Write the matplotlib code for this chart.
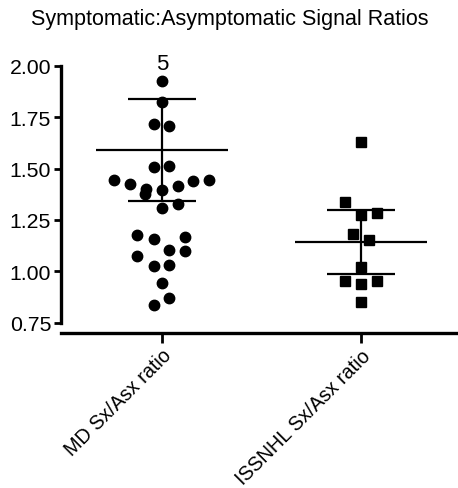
import matplotlib.pyplot as plt

plt.rcParams['font.family'] = ['Liberation Sans', 'DejaVu Sans']

# group labels
groups = ['MD Sx/Asx ratio', 'ISSNHL Sx/Asx ratio']

# values
md_vals = [1.924, 1.822, 1.717, 1.709, 1.506, 1.514, 1.445, 1.425, 1.401, 1.377,
           1.396, 1.417, 1.437, 1.445, 1.307, 1.328, 1.178, 1.155, 1.167, 1.106,
           1.101, 1.074, 1.024, 1.029, 0.943, 0.870, 0.834]
md_jit = [0, 0, -0.042, 0.037, -0.042, 0.037, -0.243, -0.162, -0.080, -0.087,
          0, 0.079, 0.156, 0.238, 0, 0.079, -0.126, -0.042, 0.117, 0.037,
          0.117, -0.126, -0.042, 0.037, 0, 0.037, -0.042]
md_mean = 1.59
md_sd = (1.34, 1.838)

ss_vals = [1.628, 1.337, 1.272, 1.285, 1.183, 1.153, 1.021, 0.951, 0.940, 0.954, 0.851]
ss_jit = [0, -0.080, 0, 0.079, -0.042, 0.040, 0, -0.080, 0, 0.079, 0]
ss_mean = 1.142
ss_sd = (0.988, 1.296)

fig = plt.figure(figsize=(4.58, 4.89), dpi=100)
ax = fig.add_axes([0.133, 0.317, 0.867, 0.5466])

ax.plot([0 + j for j in md_jit], md_vals, 'o', color='black', ms=7.5, mec='black')
ax.plot([1 + j for j in ss_jit], ss_vals, 's', color='black', ms=7, mec='black')

# mean and SD bars
for x, m, sd in [(0, md_mean, md_sd), (1, ss_mean, ss_sd)]:
    ax.hlines(m, x - 0.33, x + 0.33, color='black', lw=1.6)
    ax.hlines(sd, x - 0.17, x + 0.17, color='black', lw=1.6)
    ax.vlines(x, sd[0], sd[1], color='black', lw=1.6)

ax.text(0, 2.013, '5', ha='center', va='center', fontsize=16, clip_on=False)

ax.set_xlim(-0.508, 1.487)
ax.set_ylim(0.70, 2.00)
ax.set_yticks([0.75, 1.00, 1.25, 1.50, 1.75, 2.00])
ax.set_yticklabels(['%.2f' % v for v in [0.75, 1.00, 1.25, 1.50, 1.75, 2.00]])
ax.set_xticks([0, 1])
ax.set_xticklabels(groups, rotation=45, ha='right', rotation_mode='anchor')

ax.spines['top'].set_visible(False)
ax.spines['right'].set_visible(False)
ax.spines['left'].set_bounds(0.75, 2.00)
ax.spines['left'].set_linewidth(2.4)
ax.spines['bottom'].set_linewidth(2.4)
ax.tick_params(axis='both', width=2, labelsize=15.3, colors='black')
ax.tick_params(axis='y', length=5, pad=2)
ax.tick_params(axis='x', length=7, pad=2, labelsize=14.2)

fig.suptitle('Symptomatic:Asymptomatic Signal Ratios', fontsize=15.5, x=0.502, y=0.982, va='top')

fig.savefig('out.png')
